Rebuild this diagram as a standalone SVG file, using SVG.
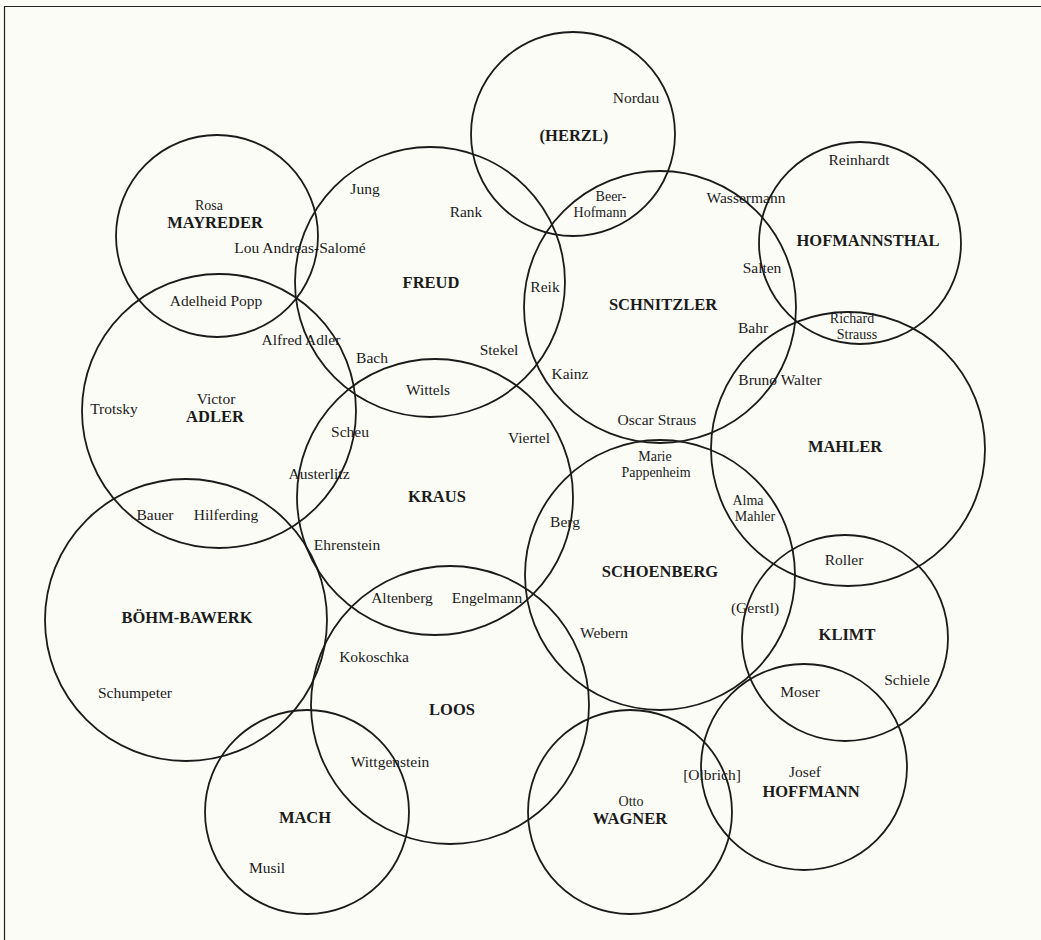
<svg xmlns="http://www.w3.org/2000/svg" width="1041" height="940" viewBox="0 0 1041 940">
<style>
.c{fill:none;stroke:#1b1b1b;stroke-width:1.8}
text{font-family:"Liberation Serif",serif;font-size:15.5px;fill:#1b1b1b;text-anchor:middle}
.b{font-weight:bold;font-size:16.5px}
.s{font-size:14px}
</style>
<rect width="1041" height="940" fill="#fcfcf7"/>
<path d="M4.5,940 V6.5 H1041" fill="none" stroke="#222" stroke-width="1.2"/>
<g id="herzl"><circle class="c" cx="573" cy="134" r="102"/><text class="b" x="574" y="141">(HERZL)</text></g>
<g id="freud"><circle class="c" cx="430" cy="282" r="135"/><text class="b" x="431" y="288">FREUD</text></g>
<g id="schnitzler"><circle class="c" cx="660" cy="307" r="136"/><text class="b" x="663" y="310">SCHNITZLER</text></g>
<g id="hofmannsthal"><circle class="c" cx="860" cy="243" r="101"/><text class="b" x="868" y="246">HOFMANNSTHAL</text></g>
<g id="mahler"><circle class="c" cx="848" cy="449" r="137"/><text class="b" x="845" y="452">MAHLER</text></g>
<g id="mayreder"><circle class="c" cx="217" cy="236" r="101"/><text class="s" x="209" y="210">Rosa</text><text class="b" x="215" y="228">MAYREDER</text></g>
<g id="adler"><circle class="c" cx="219" cy="411" r="137"/><text x="216" y="404">Victor</text><text class="b" x="215" y="422">ADLER</text></g>
<g id="kraus"><circle class="c" cx="435" cy="497" r="138"/><text class="b" x="437" y="502">KRAUS</text></g>
<g id="schoenberg"><circle class="c" cx="660" cy="575" r="135"/><text class="b" x="660" y="577">SCHOENBERG</text></g>
<g id="bohm-bawerk"><circle class="c" cx="186" cy="620" r="141"/><text class="b" x="187" y="623">BÖHM-BAWERK</text></g>
<g id="loos"><circle class="c" cx="450" cy="705" r="139"/><text class="b" x="452" y="715">LOOS</text></g>
<g id="mach"><circle class="c" cx="307" cy="812" r="102"/><text class="b" x="305" y="823">MACH</text></g>
<g id="wagner"><circle class="c" cx="630" cy="812" r="102"/><text class="s" x="631" y="806">Otto</text><text class="b" x="630" y="824">WAGNER</text></g>
<g id="hoffmann"><circle class="c" cx="804" cy="767" r="103"/><text x="805" y="777">Josef</text><text class="b" x="811" y="797">HOFFMANN</text></g>
<g id="klimt"><circle class="c" cx="845" cy="638" r="103"/><text class="b" x="847" y="640">KLIMT</text></g>
<g id="people">
<text x="636" y="103">Nordau</text>
<text class="s" x="611" y="201">Beer-</text>
<text class="s" x="600" y="217">Hofmann</text>
<text x="466" y="217">Rank</text>
<text x="746" y="203">Wassermann</text>
<text x="762" y="273">Salten</text>
<text x="545" y="292">Reik</text>
<text x="753" y="333">Bahr</text>
<text x="499" y="355">Stekel</text>
<text x="570" y="379">Kainz</text>
<text x="780" y="385">Bruno Walter</text>
<text x="859" y="165">Reinhardt</text>
<text class="s" x="852" y="323">Richard</text>
<text class="s" x="857" y="339">Strauss</text>
<text x="365" y="194">Jung</text>
<text x="300" y="253">Lou Andreas-Salomé</text>
<text x="216" y="306">Adelheid Popp</text>
<text x="301" y="345">Alfred Adler</text>
<text x="372" y="363">Bach</text>
<text x="114" y="414">Trotsky</text>
<text x="350" y="437">Scheu</text>
<text x="319" y="479">Austerlitz</text>
<text x="155" y="520">Bauer</text>
<text x="226" y="520">Hilferding</text>
<text x="347" y="550">Ehrenstein</text>
<text x="428" y="395">Wittels</text>
<text x="529" y="443">Viertel</text>
<text x="565" y="527">Berg</text>
<text x="402" y="603">Altenberg</text>
<text x="487" y="603">Engelmann</text>
<text x="657" y="425">Oscar Straus</text>
<text class="s" x="655" y="461">Marie</text>
<text class="s" x="656" y="477">Pappenheim</text>
<text class="s" x="748" y="505">Alma</text>
<text class="s" x="755" y="521">Mahler</text>
<text x="604" y="638">Webern</text>
<text x="755" y="613">(Gerstl)</text>
<text x="800" y="697">Moser</text>
<text x="844" y="565">Roller</text>
<text x="907" y="685">Schiele</text>
<text x="135" y="698">Schumpeter</text>
<text x="374" y="662">Kokoschka</text>
<text x="390" y="767">Wittgenstein</text>
<text x="267" y="873">Musil</text>
<text x="712" y="780">[Olbrich]</text>
</g>
</svg>
